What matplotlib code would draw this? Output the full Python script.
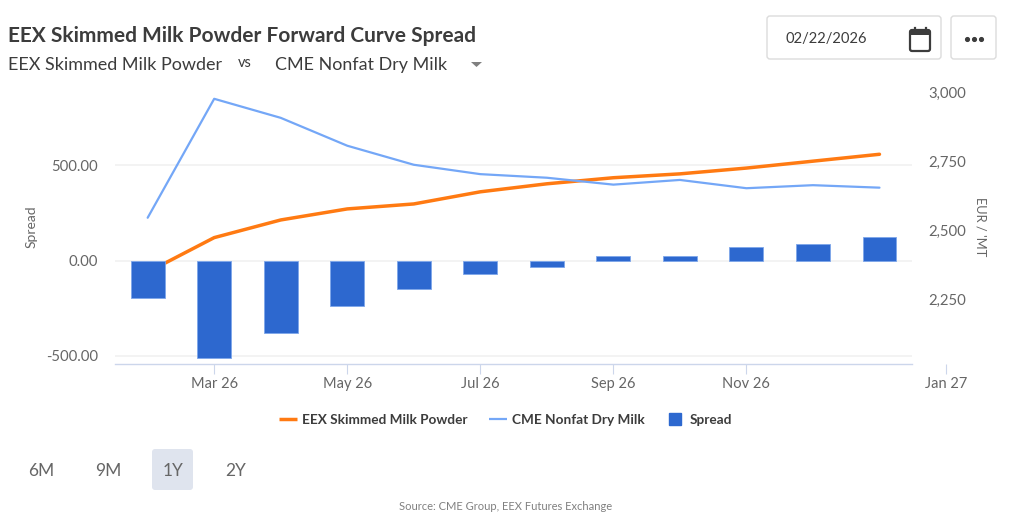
import matplotlib
matplotlib.use('Agg')
import matplotlib.pyplot as plt
from matplotlib.lines import Line2D
from matplotlib.patches import FancyBboxPatch, Polygon, Rectangle

plt.rcParams['font.family'] = ['Lato', 'DejaVu Sans']

# values
months = ['Feb 26', 'Mar 26', 'Apr 26', 'May 26', 'Jun 26', 'Jul 26',
          'Aug 26', 'Sep 26', 'Oct 26', 'Nov 26', 'Dec 26', 'Jan 27']
eex = [2350, 2475, 2539, 2579, 2597, 2641, 2670, 2692, 2706, 2727, 2752, 2777]
cme = [2547, 2978, 2909, 2808, 2739, 2705, 2692, 2667, 2684, 2654, 2665, 2656]
spread = [-197, -512, -381, -238, -147, -71, -32, 25, 25, 70, 88, 123]

x_ticks = [1, 3, 5, 7, 9, 12]
x_labels = ['Mar 26', 'May 26', 'Jul 26', 'Sep 26', 'Nov 26', 'Jan 27']
left_ticks = [-500, 0, 500]
right_ticks = [2250, 2500, 2750, 3000]

W, H = 1024, 522
TEXT = '#3c3c3c'
GREY = '#666666'
BAR = '#2d68cf'
ORANGE = '#ff7a12'
BLUE = '#74a7f7'
GRID = '#f0f0f0'
AXIS = '#ccd6eb'

fig = plt.figure(figsize=(W / 100, H / 100), dpi=100)

# plot area in pixels: x 115-950, y 85-364
rect = [115 / W, 1 - 364.3 / H, 835 / W, 279.3 / H]
ax_r = fig.add_axes(rect)
ax = ax_r.twinx()
ax.yaxis.tick_left()
ax_r.yaxis.tick_right()
ax.set_zorder(3)
ax.patch.set_visible(False)
ax.xaxis.set_visible(True)  # twinx hides it

x = list(range(len(months)))
xlim = (-0.491, 12.06)
plot_end = 11.49

# lines sit under the bars
ax_r.plot(x, eex, color=ORANGE, lw=2.5, solid_capstyle='round', zorder=3)
ax_r.plot(x, cme, color=BLUE, lw=1.6, solid_capstyle='round', zorder=3)
ax.bar(x, spread, width=0.51, color=BAR, edgecolor='#7ea6ea', linewidth=0.6, zorder=3)

ax.set_xlim(xlim)
ax_r.set_xlim(xlim)
ax.set_ylim(-544, 922)
ax_r.set_ylim(2016, 3028)

# grid goes on the lower axes so the lines stay on top of it
ax_r.hlines(left_ticks, xlim[0], plot_end, color=GRID, lw=1.1, zorder=1,
            transform=ax.transData)

ax.set_yticks(left_ticks)
ax.set_yticklabels(['%.2f' % v for v in left_ticks])
ax_r.set_yticks(right_ticks)
ax_r.set_yticklabels(['{:,}'.format(v) for v in right_ticks])
ax.tick_params(axis='y', length=0, pad=12, labelsize=10.7, labelcolor=GREY)
ax_r.tick_params(axis='y', length=0, pad=-15.5, labelsize=10.7, labelcolor=GREY)

ax.set_xticks(x_ticks)
ax.set_xticklabels(x_labels)
ax.tick_params(axis='x', length=7.2, width=0.8, color=AXIS, pad=2.2,
               labelsize=10.5, labelcolor=GREY)
ax_r.tick_params(axis='x', bottom=False, labelbottom=False)

for a in (ax, ax_r):
    for side in ('top', 'left', 'right', 'bottom'):
        a.spines[side].set_visible(False)
ax.spines['bottom'].set_visible(True)
ax.spines['bottom'].set_color(AXIS)
ax.spines['bottom'].set_linewidth(1.0)
ax.spines['bottom'].set_bounds(xlim[0], plot_end)

# legend
handles = [
    Line2D([], [], color=ORANGE, lw=2.5, solid_capstyle='butt'),
    Line2D([], [], color=BLUE, lw=1.6, solid_capstyle='butt'),
    Line2D([], [], color=BAR, lw=0, marker='s', markersize=9),
]
names = ['EEX Skimmed Milk Powder', 'CME Nonfat Dry Milk', 'Spread']
leg = fig.legend(handles, names, loc='center', bbox_to_anchor=(505.5 / W, 1 - 419.5 / H),
                 ncol=3, frameon=False, handlelength=1.3, handletextpad=0.42,
                 columnspacing=1.55, borderpad=0, prop={'size': 9.8, 'weight': 'bold'})
for t in leg.get_texts():
    t.set_color(TEXT)

# page furniture, drawn in pixel coordinates
ui = fig.add_axes([0, 0, 1, 1], zorder=5)
ui.set_xlim(0, W)
ui.set_ylim(H, 0)
ui.axis('off')

ui.text(8, 35.5, 'EEX Skimmed Milk Powder Forward Curve Spread', fontsize=15,
        fontweight='bold', color=TEXT, va='center')
ui.text(8, 65, 'EEX Skimmed Milk Powder', fontsize=13, color=TEXT, va='center')
ui.text(238, 63, 'vs', fontsize=10.5, color=TEXT, va='center')
ui.text(275, 65, 'CME Nonfat Dry Milk', fontsize=12.9, color=TEXT, va='center')
ui.add_patch(Polygon([(471, 62), (482, 62), (476.5, 67)], color='#808080', lw=0))

for bx, bw in [(767, 174), (951, 45)]:
    ui.add_patch(FancyBboxPatch((bx, 16), bw, 43, boxstyle='round,pad=0,rounding_size=3',
                                fc='white', ec='#dcdcdc', lw=1.0))
ui.text(785, 39.5, '02/22/2026', fontsize=10.6, color=TEXT, va='center')

# calendar icon
ui.add_patch(FancyBboxPatch((910, 30), 20, 21, boxstyle='round,pad=0,rounding_size=2',
                            fc='white', ec='#3c3c3c', lw=1.6))
ui.add_patch(Rectangle((910, 30), 20, 5, fc='#3c3c3c', lw=0))
ui.plot([914.5, 914.5], [28, 31], color='#3c3c3c', lw=1.6)
ui.plot([925.5, 925.5], [28, 31], color='#3c3c3c', lw=1.6)

ui.plot([966.5, 973.5, 981], [38.5, 38.5, 38.5], 'o', color='#3c3c3c', ms=2.7)

ui.add_patch(FancyBboxPatch((152, 449), 41, 41, boxstyle='round,pad=0,rounding_size=3',
                            fc='#dfe4ee', ec='none'))
for bx, label in [(41, '6M'), (108, '9M'), (173, '1Y'), (236, '2Y')]:
    ui.text(bx, 471, label, fontsize=12.5, color=GREY, ha='center', va='center')

ui.text(31.5, 227, 'Spread', fontsize=10, color=GREY, rotation=90, ha='center', va='center')
ui.text(981, 227, "EUR / 'MT", fontsize=9.3, color=GREY, rotation=270, ha='center', va='center')
ui.text(506, 506, 'Source: CME Group, EEX Futures Exchange', fontsize=8, color='#808080',
        ha='center', va='center')

fig.savefig('out.png', dpi=100)
